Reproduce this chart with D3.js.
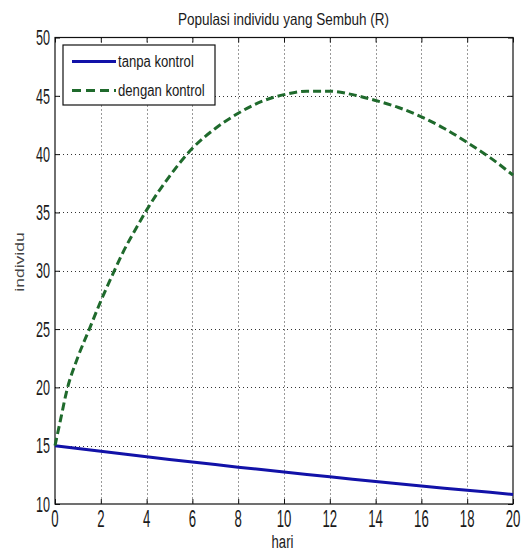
<!DOCTYPE html>
<html>
<head>
<meta charset="utf-8">
<script src="https://cdn.jsdelivr.net/npm/d3@7"></script>
<style>
  html, body { margin: 0; padding: 0; background: #fff; }
  svg { display: block; }
  text { font-family: "Liberation Sans", Arial, sans-serif; fill: #1a1a1a; }
</style>
</head>
<body>
<svg id="chart" width="526" height="551"></svg>
<script>
// ---- data ----
const chartTitle = "Populasi individu yang Sembuh (R)";
const xLabel = "hari";
const yLabel = "individu";
const seriesNames = ["tanpa kontrol", "dengan kontrol"];

const xTicks = [0, 2, 4, 6, 8, 10, 12, 14, 16, 18, 20];
const yTicks = [10, 15, 20, 25, 30, 35, 40, 45, 50];

const tanpaDays = [0, 1, 2, 3, 4, 5, 6, 7, 8, 9, 10, 11, 12, 13, 14, 15, 16, 17, 18, 19, 20];
const tanpaKontrol = [15.00, 14.76, 14.52, 14.28, 14.05, 13.82, 13.60, 13.38, 13.16, 12.95, 12.74,
                      12.53, 12.33, 12.13, 11.93, 11.74, 11.55, 11.36, 11.18, 11.00, 10.82];

const denganDays = [0, 0.25, 0.5, 1, 1.5, 2, 2.5, 3, 3.5, 4, 5, 6, 7, 8, 9, 10, 11, 12, 13, 14, 15, 16, 17, 18, 19, 20];
const denganKontrol = [15.0, 17.3, 19.6, 22.6, 25.0, 27.4, 29.6, 31.7, 33.5, 35.2, 38.1, 40.5, 42.2, 43.5,
                       44.5, 45.1, 45.4, 45.4, 45.1, 44.6, 44.0, 43.2, 42.2, 41.0, 39.7, 38.2];

// ---- layout ----
const svg = d3.select("#chart");
const plot = { left: 55, right: 513, top: 37.5, bottom: 504 };

const x = d3.scaleLinear().domain([0, 20]).range([plot.left, plot.right]);
const y = d3.scaleLinear().domain([10, 50]).range([plot.bottom, plot.top]);

function stretchedText(g, str, tx, ty, size, sx, sy, anchor, rot) {
  return g.append("text")
    .attr("transform", `translate(${tx},${ty})` + (rot ? ` rotate(${rot})` : "") + ` scale(${sx},${sy})`)
    .attr("font-size", size)
    .attr("text-anchor", anchor || "middle")
    .text(str);
}

// grid
const grid = svg.append("g");
grid.selectAll("line.vx").data(xTicks.filter(d => d > 0 && d < 20)).join("line")
  .attr("x1", d => Math.round(x(d)) + 0.5).attr("x2", d => Math.round(x(d)) + 0.5)
  .attr("y1", plot.top).attr("y2", plot.bottom)
  .attr("stroke", "#333").attr("stroke-width", 1).attr("stroke-dasharray", "1,3");
grid.selectAll("line.hy").data(yTicks.filter(d => d > 10 && d < 50)).join("line")
  .attr("y1", d => Math.round(y(d)) + 0.5).attr("y2", d => Math.round(y(d)) + 0.5)
  .attr("x1", plot.left).attr("x2", plot.right)
  .attr("stroke", "#333").attr("stroke-width", 1).attr("stroke-dasharray", "1,3");

// axes (inward ticks on all sides) via d3 axes
const axB = svg.append("g").attr("transform", `translate(0,${plot.bottom})`)
  .call(d3.axisTop(x).tickValues(xTicks).tickSize(5).tickFormat(""));
const axT = svg.append("g").attr("transform", `translate(0,${plot.top})`)
  .call(d3.axisBottom(x).tickValues(xTicks).tickSize(5).tickFormat(""));
const axL = svg.append("g").attr("transform", `translate(${plot.left},0)`)
  .call(d3.axisRight(y).tickValues(yTicks).tickSize(5).tickFormat(""));
const axR = svg.append("g").attr("transform", `translate(${plot.right},0)`)
  .call(d3.axisLeft(y).tickValues(yTicks).tickSize(5).tickFormat(""));
[axB, axT, axL, axR].forEach(a => {
  a.select(".domain").remove();
  a.selectAll("line").attr("stroke", "#111");
});

// frame
svg.append("rect")
  .attr("x", plot.left).attr("y", plot.top)
  .attr("width", plot.right - plot.left).attr("height", plot.bottom - plot.top)
  .attr("fill", "none").attr("stroke", "#111").attr("stroke-width", 1.2);

// tick labels
const lbl = svg.append("g");
xTicks.forEach(d => stretchedText(lbl, String(d), x(d), 527, 15, 0.88, 1.62, "middle"));
yTicks.forEach(d => stretchedText(lbl, String(d), 50, y(d) + 7.7, 15, 0.84, 1.45, "end"));

// lines
const blueColor = "#1212a8";
const greenColor = "#1f6a2c";

svg.append("path")
  .datum(tanpaDays.map((d, i) => [d, tanpaKontrol[i]]))
  .attr("d", d3.line().x(d => x(d[0])).y(d => y(d[1])).curve(d3.curveLinear))
  .attr("fill", "none").attr("stroke", blueColor).attr("stroke-width", 3);

svg.append("path")
  .datum(denganDays.map((d, i) => [d, denganKontrol[i]]))
  .attr("d", d3.line().x(d => x(d[0])).y(d => y(d[1])).curve(d3.curveMonotoneX))
  .attr("fill", "none").attr("stroke", greenColor).attr("stroke-width", 3)
  .attr("stroke-dasharray", "8,4");

// legend
const leg = svg.append("g");
leg.append("rect").attr("x", 63).attr("y", 45).attr("width", 152).attr("height", 60)
  .attr("fill", "#fff").attr("stroke", "#111").attr("stroke-width", 1.2);
leg.append("line").attr("x1", 72).attr("x2", 116).attr("y1", 61.5).attr("y2", 61.5)
  .attr("stroke", blueColor).attr("stroke-width", 3);
leg.append("line").attr("x1", 72).attr("x2", 116).attr("y1", 90.5).attr("y2", 90.5)
  .attr("stroke", greenColor).attr("stroke-width", 3).attr("stroke-dasharray", "9,5");
stretchedText(leg, seriesNames[0], 118, 66.5, 16, 0.82, 1.0, "start");
stretchedText(leg, seriesNames[1], 118, 95.5, 16, 0.82, 1.0, "start");

// titles
stretchedText(svg, chartTitle, 283.5, 25, 16.5, 0.82, 1.05, "middle");
stretchedText(svg, xLabel, 282.5, 548, 16, 0.82, 1.2, "middle");
stretchedText(svg, yLabel, 24, 262, 13, 1.35, 0.95, "middle", -90).style("fill", "#444");
</script>
</body>
</html>
